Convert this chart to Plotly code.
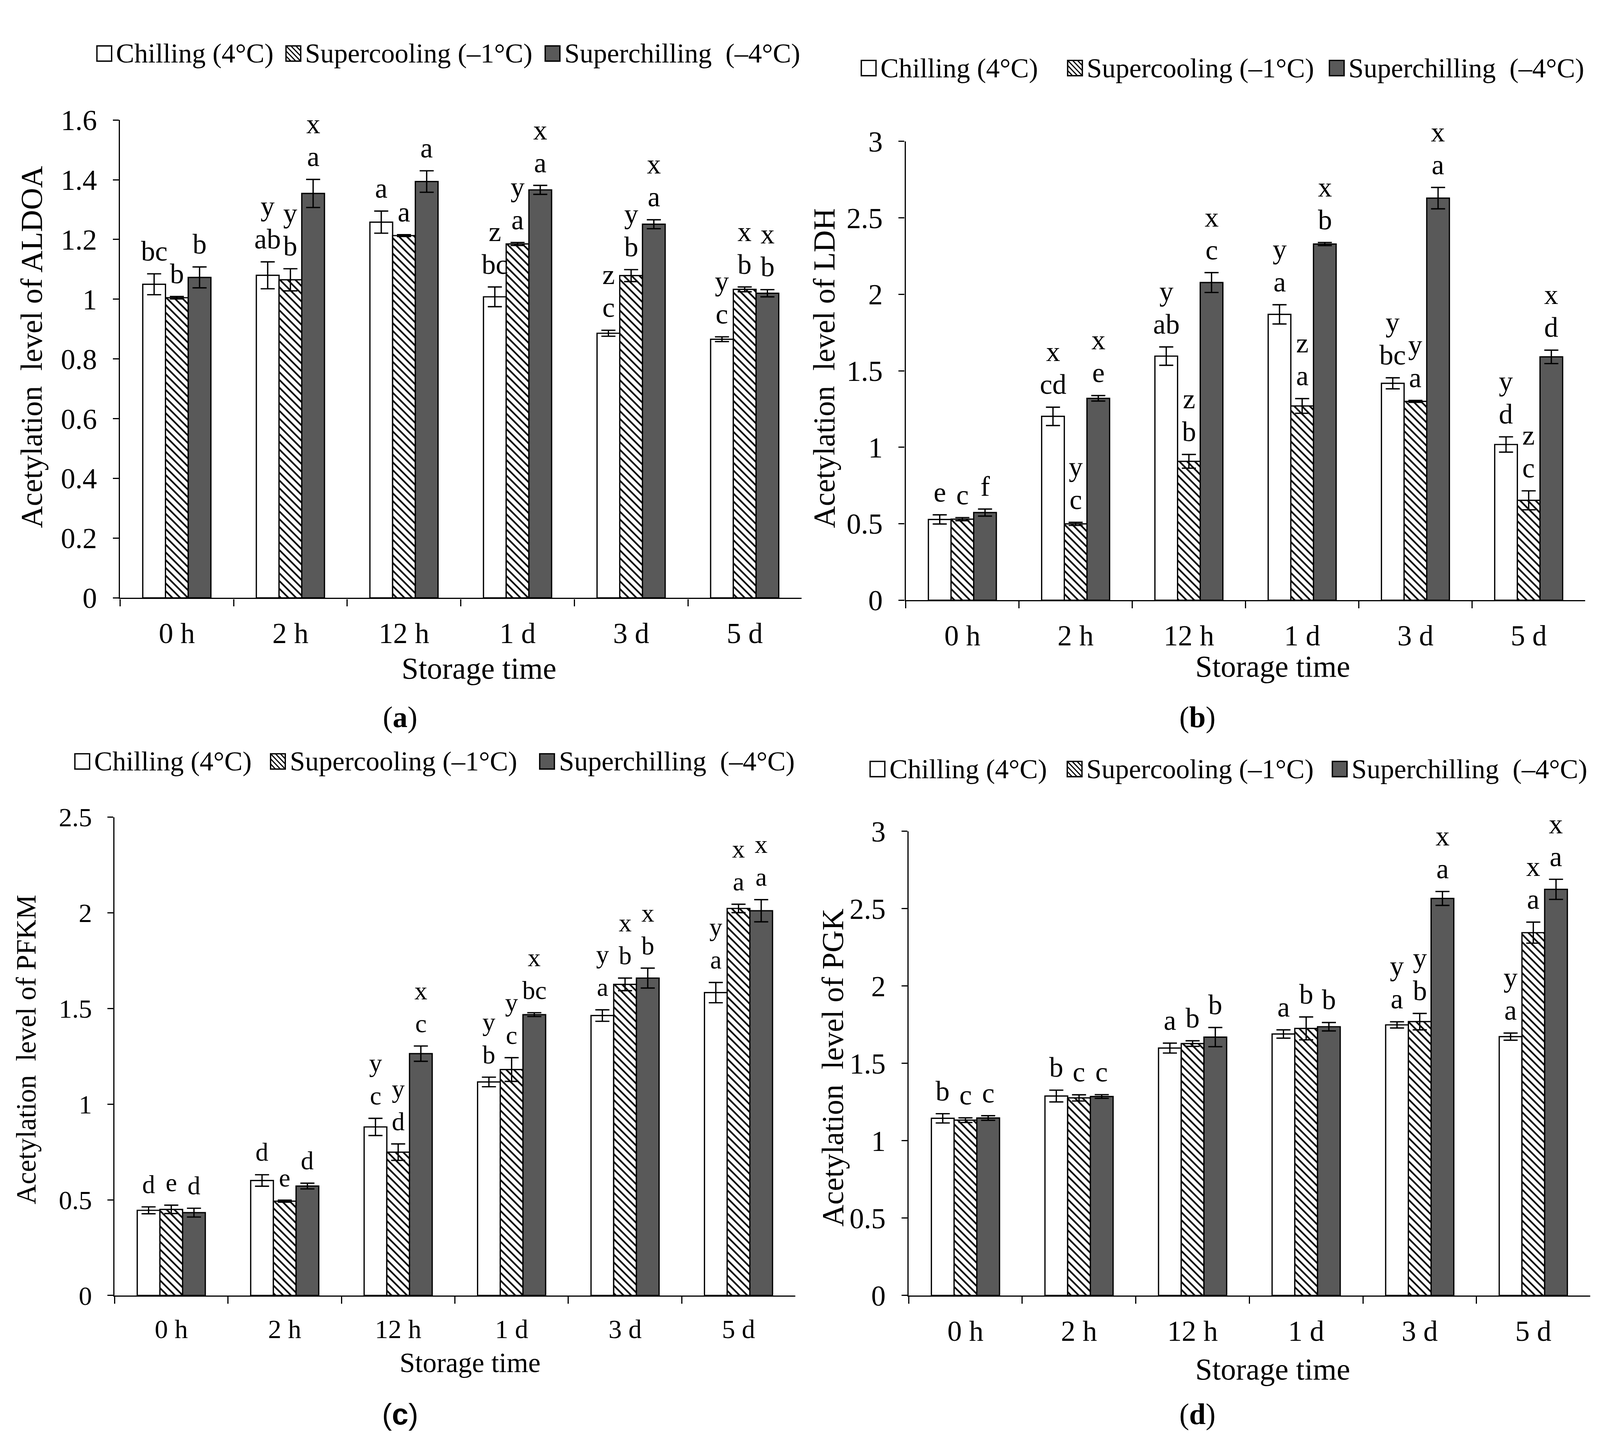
import plotly.graph_objects as go

# reference was measured on a 4358 x 3714 image; the browser page is 4096 wide
REF_W, REF_H = 4358, 3714
VIEW_W = 4096
FW, FH = 4080, 3698          # figure size inside the 8px body margin
SX = VIEW_W / REF_W
SERIF = "Times New Roman, Liberation Serif, serif"
DARK = "#595959"

categories = ["0 h", "2 h", "12 h", "1 d", "3 d", "5 d"]
series_names = ["Chilling (4°C)", "Supercooling (–1°C)", "Superchilling  (–4°C)"]

# (a) ALDOA
aldoa_chill = [1.050, 1.080, 1.258, 1.008, 0.886, 0.866]
aldoa_chill_err = [0.035, 0.045, 0.037, 0.033, 0.010, 0.008]
aldoa_super = [1.005, 1.065, 1.213, 1.185, 1.079, 1.033]
aldoa_super_err = [0.004, 0.037, 0.003, 0.005, 0.020, 0.008]
aldoa_schill = [1.073, 1.354, 1.394, 1.366, 1.251, 1.020]
aldoa_schill_err = [0.035, 0.047, 0.036, 0.015, 0.015, 0.012]
aldoa_lab_chill = ["bc", "y\nab", "a", "z\nbc", "z\nc", "y\nc"]
aldoa_lab_super = ["b", "y\nb", "a", "y\na", "y\nb", "x\nb"]
aldoa_lab_schill = ["b", "x\na", "a", "x\na", "x\na", "x\nb"]

# (b) LDH
ldh_chill = [0.528, 1.202, 1.596, 1.869, 1.418, 1.018]
ldh_chill_err = [0.030, 0.060, 0.060, 0.063, 0.036, 0.050]
ldh_super = [0.530, 0.499, 0.908, 1.270, 1.300, 0.653]
ldh_super_err = [0.010, 0.010, 0.045, 0.048, 0.006, 0.062]
ldh_schill = [0.573, 1.320, 2.077, 2.329, 2.629, 1.591]
ldh_schill_err = [0.023, 0.018, 0.065, 0.010, 0.070, 0.044]
ldh_lab_chill = ["e", "x\ncd", "y\nab", "y\na", "y\nbc", "y\nd"]
ldh_lab_super = ["c", "y\nc", "z\nb", "z\na", "y\na", "z\nc"]
ldh_lab_schill = ["f", "x\ne", "x\nc", "x\nb", "x\na", "x\nd"]

# (c) PFKM
pfkm_chill = [0.445, 0.601, 0.881, 1.116, 1.463, 1.583]
pfkm_chill_err = [0.018, 0.030, 0.045, 0.025, 0.030, 0.053]
pfkm_super = [0.450, 0.493, 0.749, 1.181, 1.626, 2.023]
pfkm_super_err = [0.022, 0.005, 0.043, 0.062, 0.033, 0.022]
pfkm_schill = [0.433, 0.572, 1.264, 1.468, 1.659, 2.011]
pfkm_schill_err = [0.023, 0.015, 0.040, 0.010, 0.052, 0.058]
pfkm_lab_chill = ["d", "d", "y\nc", "y\nb", "y\na", "y\na"]
pfkm_lab_super = ["e", "e", "y\nd", "y\nc", "x\nb", "x\na"]
pfkm_lab_schill = ["d", "d", "x\nc", "x\nbc", "x\nb", "x\na"]

# (d) PGK
pgk_chill = [1.145, 1.289, 1.599, 1.690, 1.749, 1.673]
pgk_chill_err = [0.030, 0.038, 0.032, 0.027, 0.020, 0.023]
pgk_super = [1.133, 1.277, 1.628, 1.726, 1.770, 2.345]
pgk_super_err = [0.015, 0.020, 0.018, 0.074, 0.053, 0.068]
pgk_schill = [1.147, 1.286, 1.670, 1.737, 2.566, 2.625]
pgk_schill_err = [0.015, 0.012, 0.062, 0.027, 0.045, 0.065]
pgk_lab_chill = ["b", "b", "a", "a", "y\na", "y\na"]
pgk_lab_super = ["c", "c", "b", "b", "y\nb", "x\na"]
pgk_lab_schill = ["c", "c", "b", "b", "x\na", "x\na"]

panels = [
    dict(name="ALDOA", ymax=1.6, dtick=0.2, label="(<b>a</b>)", label_font=SERIF,
         vals=[aldoa_chill, aldoa_super, aldoa_schill],
         errs=[aldoa_chill_err, aldoa_super_err, aldoa_schill_err],
         labs=[aldoa_lab_chill, aldoa_lab_super, aldoa_lab_schill],
         box=(327, 2183, 273, 1524), xt=(1304, 1708), yt=(86, 867), lab=(1090, 1836),
         leg=[264, 779, 1485], leg_y=99, fs=74, ts=78),
    dict(name="LDH", ymax=3, dtick=0.5, label="(<b>b</b>)", label_font=SERIF,
         vals=[ldh_chill, ldh_super, ldh_schill],
         errs=[ldh_chill_err, ldh_super_err, ldh_schill_err],
         labs=[ldh_lab_chill, ldh_lab_super, ldh_lab_schill],
         box=(2467, 4318, 329, 1530), xt=(3466, 1703), yt=(2245, 923), lab=(3262, 1836),
         leg=[2346, 2908, 3621], leg_y=137, fs=74, ts=78),
    dict(name="PFKM", ymax=2.5, dtick=0.5, label="(<b>c</b>)",
         label_font="Liberation Sans, Arial, sans-serif",
         vals=[pfkm_chill, pfkm_super, pfkm_schill],
         errs=[pfkm_chill_err, pfkm_super_err, pfkm_schill_err],
         labs=[pfkm_lab_chill, pfkm_lab_super, pfkm_lab_schill],
         box=(312, 2166, 2098, 3350), xt=(1281, 3526), yt=(72, 2706), lab=(1090, 3660),
         leg=[204, 737, 1470], leg_y=1952, fs=68, ts=71),
    dict(name="PGK", ymax=3, dtick=0.5, label="(<b>d</b>)", label_font=SERIF,
         vals=[pgk_chill, pgk_super, pgk_schill],
         errs=[pgk_chill_err, pgk_super_err, pgk_schill_err],
         labs=[pgk_lab_chill, pgk_lab_super, pgk_lab_schill],
         box=(2475, 4331, 2135, 3350), xt=(3466, 3543), yt=(2267, 2754), lab=(3262, 3660),
         leg=[2370, 2907, 3629], leg_y=1972, fs=74, ts=78),
]


def px(x):
    # reference pixel x -> paper fraction
    return (x * SX - 8) / FW


def py(y):
    return 1 - (y - 8) / FH


def bar_marker(k):
    line = dict(color="black", width=3.2)
    if k == 0:
        return dict(color="white", line=line)
    if k == 1:
        return dict(color="white", line=line,
                    pattern=dict(shape="\\", fgcolor="black", bgcolor="white",
                                 size=14, solidity=0.3, fillmode="replace"))
    return dict(color=DARK, line=line)


def paper_text(x, y, text, size, family=SERIF, **kw):
    d = dict(x=px(x), y=py(y), xref="paper", yref="paper", text=text, showarrow=False,
             xanchor="center", yanchor="middle",
             font=dict(family=family, size=size, color="black"))
    d.update(kw)
    return d


fig = go.Figure()
annotations = []
shapes = []
group_w = 0.6
bw = group_w / 3

for n, p in enumerate(panels, start=1):
    xa = "x" if n == 1 else f"x{n}"
    ya = "y" if n == 1 else f"y{n}"
    x0, x1, y0, y1 = p["box"]

    for k in range(3):
        fig.add_trace(go.Bar(
            x=categories, y=p["vals"][k], name=series_names[k],
            xaxis=xa, yaxis=ya, showlegend=False,
            marker=bar_marker(k),
            error_y=dict(type="data", array=p["errs"][k], color="black",
                         thickness=3.4, width=18),
        ))
        # significance letters above each error bar
        for i, txt in enumerate(p["labs"][k]):
            lines = txt.split("\n")[::-1]
            for j, t in enumerate(lines):
                annotations.append(dict(
                    x=i + (k - 1) * bw, y=p["vals"][k][i] + p["errs"][k][i],
                    xref=xa, yref=ya, text=t, showarrow=False,
                    xanchor="center", yanchor="middle", yshift=58 + j * 84,
                    font=dict(family=SERIF, size=p["fs"] - 2, color="black"),
                ))

    axis_common = dict(showline=True, linecolor="black", linewidth=3.4,
                       ticks="outside", tickwidth=3.4, tickcolor="black",
                       showgrid=False, zeroline=False,
                       tickfont=dict(family=SERIF, size=p["fs"], color="black"))
    fig.layout[f"xaxis{'' if n == 1 else n}"] = dict(
        axis_common, domain=[px(x0), px(x1)], anchor=ya, type="category",
        categoryorder="array", categoryarray=categories, range=[-0.5, 5.5],
        tickson="boundaries", ticklen=18, ticklabelstandoff=24)
    fig.layout[f"yaxis{'' if n == 1 else n}"] = dict(
        axis_common, domain=[py(y1), py(y0)], anchor=xa, range=[0, p["ymax"]],
        dtick=p["dtick"], ticklen=15, ticklabelstandoff=26)

    # axis titles and panel label
    annotations.append(paper_text(*p["xt"], "Storage time", p["ts"]))
    annotations.append(paper_text(*p["yt"], f"Acetylation  level of {p['name']}",
                                  p["ts"], textangle=-90))
    annotations.append(paper_text(*p["lab"], p["label"], 76, family=p["label_font"]))

    # legend drawn by hand so the swatches can match the reference size
    s = 40
    yc = p["leg_y"]
    for k, lx in enumerate(p["leg"]):
        fill = DARK if k == 2 else "white"
        shapes.append(dict(type="rect", xref="paper", yref="paper",
                           x0=px(lx), x1=px(lx + s), y0=py(yc + s / 2), y1=py(yc - s / 2),
                           fillcolor=fill, line=dict(color="black", width=3.4)))
        if k == 1:
            top = yc - s / 2
            for c in [-2 * s / 3, -s / 3, 0, s / 3, 2 * s / 3]:
                if c >= 0:
                    ax0, ay0, ax1, ay1 = lx + c, top, lx + s, top + s - c
                else:
                    ax0, ay0, ax1, ay1 = lx, top - c, lx + s + c, top + s
                shapes.append(dict(type="line", xref="paper", yref="paper",
                                   x0=px(ax0), y0=py(ay0), x1=px(ax1), y1=py(ay1),
                                   line=dict(color="black", width=3)))
        annotations.append(paper_text(lx + 50, yc, series_names[k], 70, xanchor="left"))

fig.update_layout(
    width=FW, height=FH,
    margin=dict(l=0, r=0, t=0, b=0),
    paper_bgcolor="white", plot_bgcolor="white",
    barmode="group", bargap=1 - group_w, bargroupgap=0,
    annotations=annotations, shapes=shapes,
    showlegend=False,
)

fig.write_html("out.html")
